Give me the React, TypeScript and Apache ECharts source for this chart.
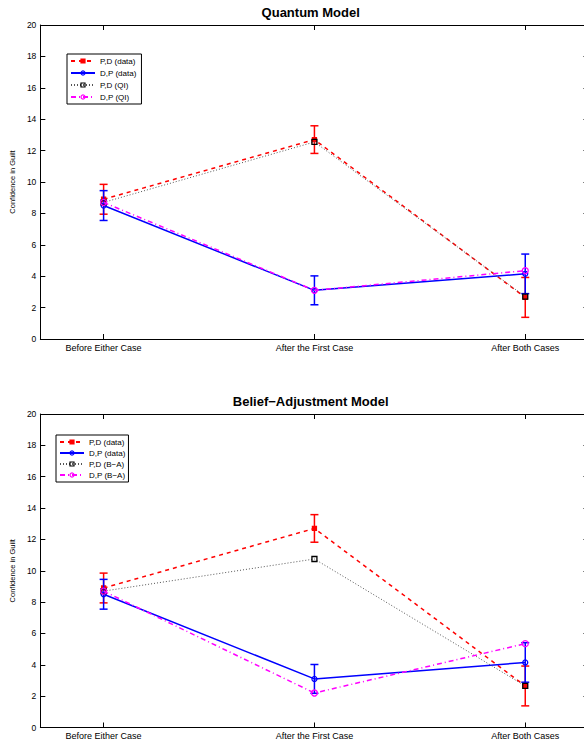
import React, { useEffect, useRef } from "react";
import * as echarts from "echarts";

const categories = ["Before Either Case", "After the First Case", "After Both Cases"];
const xPositions = [1, 2, 3];
const yTicks = [0, 2, 4, 6, 8, 10, 12, 14, 16, 18, 20];

const pdData = [8.9, 12.7, 2.65];
const pdErr = [0.95, 0.88, 1.27];
const dpData = [8.5, 3.1, 4.15];
const dpErr = [0.95, 0.92, 1.26];

const pdQI = [8.7, 12.55, 2.7];
const dpQI = [8.7, 3.1, 4.35];

const pdBA = [8.7, 10.75, 2.65];
const dpBA = [8.7, 2.2, 5.35];

const titles = ["Quantum Model", "Belief\u2212Adjustment Model"];
const legendTop = ["P,D (data)", "D,P (data)", "P,D (QI)", "D,P (QI)"];
const legendBottom = ["P,D (data)", "D,P (data)", "P,D (B\u2212A)", "D,P (B\u2212A)"];
const yName = "Confidence in Guilt";

const FONT = "Liberation Sans, Arial, Helvetica, sans-serif";
const RED = "#ff0000";
const BLUE = "#0000ff";
const BLACK = "#000000";
const DOT = "#555555";
const MAGENTA = "#ff00ff";
const CLEAR = "rgba(0,0,0,0)";

// style per legend row: [line color, marker fill, marker border]
const rowStyles = [
  { color: RED, fill: RED, border: RED },
  { color: BLUE, fill: CLEAR, border: BLUE },
  { color: DOT, fill: CLEAR, border: BLACK },
  { color: MAGENTA, fill: CLEAR, border: MAGENTA },
];

function pts(vals: number[]) {
  return xPositions.map((x, i) => [x, vals[i]]);
}

function lineSeries(
  name: string,
  vals: number[],
  color: string,
  dash: any,
  width: number,
  symbol: string,
  size: number,
  fill: string,
  border: string,
  g: number,
  z: number
) {
  return {
    type: "line",
    name,
    xAxisIndex: g * 2,
    yAxisIndex: g * 2,
    data: pts(vals),
    symbol,
    symbolSize: size,
    showSymbol: true,
    z,
    lineStyle: { color, width, type: dash },
    itemStyle: { color: fill, borderColor: border, borderWidth: 1.3 },
    emphasis: { disabled: true },
  };
}

function errSeries(vals: number[], errs: number[], color: string, g: number, z: number) {
  return {
    type: "custom",
    xAxisIndex: g * 2,
    yAxisIndex: g * 2,
    z,
    silent: true,
    data: xPositions.map((x, i) => [x, vals[i], errs[i]]),
    renderItem: (params: any, api: any) => {
      const x = api.value(0);
      const y = api.value(1);
      const e = api.value(2);
      const top = api.coord([x, y + e]);
      const bot = api.coord([x, y - e]);
      const hw = 4;
      const style = { stroke: color, lineWidth: 1.5 };
      return {
        type: "group",
        children: [
          { type: "line", shape: { x1: top[0], y1: top[1], x2: bot[0], y2: bot[1] }, style },
          { type: "line", shape: { x1: top[0] - hw, y1: top[1], x2: top[0] + hw, y2: top[1] }, style },
          { type: "line", shape: { x1: bot[0] - hw, y1: bot[1], x2: bot[0] + hw, y2: bot[1] }, style },
        ],
      };
    },
  };
}

export default function App() {
  const ref = useRef<HTMLDivElement>(null);
  useEffect(() => {
    if (!ref.current) return;
    const chart = echarts.init(ref.current, undefined, { renderer: "svg" });
    const grids = [
      { left: 33, top: 25, width: 555.5, height: 314 },
      { left: 33, top: 414, width: 555.5, height: 313.5 },
    ];
    const xAxes: any[] = [];
    const yAxes: any[] = [];
    grids.forEach((_, g) => {
      xAxes.push({
        type: "value",
        gridIndex: g,
        min: 0.7,
        max: 3.3,
        position: "bottom",
        axisLine: { show: true, onZero: false, lineStyle: { color: BLACK, width: 1 } },
        axisTick: { show: true, inside: true, length: 5, customValues: xPositions, lineStyle: { color: BLACK } },
        axisLabel: {
          show: true,
          customValues: xPositions,
          margin: 4,
          fontSize: 9,
          fontFamily: FONT,
          color: BLACK,
          formatter: (v: number) => categories[Math.round(v) - 1] || "",
        },
        splitLine: { show: false },
      });
      xAxes.push({
        type: "value",
        gridIndex: g,
        min: 0.7,
        max: 3.3,
        position: "top",
        axisLine: { show: true, onZero: false, lineStyle: { color: BLACK, width: 1 } },
        axisTick: { show: true, inside: true, length: 5, customValues: xPositions, lineStyle: { color: BLACK } },
        axisLabel: { show: false },
        splitLine: { show: false },
      });
      yAxes.push({
        type: "value",
        gridIndex: g,
        min: 0,
        max: 20,
        interval: 2,
        position: "left",
        name: yName,
        nameLocation: "middle",
        nameGap: 17,
        nameTextStyle: { fontSize: 7.5, fontFamily: FONT, color: BLACK },
        axisLine: { show: true, onZero: false, lineStyle: { color: BLACK, width: 1 } },
        axisTick: { show: true, inside: true, length: 5, lineStyle: { color: BLACK } },
        axisLabel: {
          show: true,
          margin: 4,
          fontSize: 8.5,
          fontFamily: FONT,
          color: BLACK,
          customValues: yTicks,
        },
        splitLine: { show: false },
      });
      yAxes.push({
        type: "value",
        gridIndex: g,
        min: 0,
        max: 20,
        interval: 2,
        position: "right",
        axisLine: { show: true, onZero: false, lineStyle: { color: BLACK, width: 1 } },
        axisTick: { show: true, inside: true, length: 5, lineStyle: { color: BLACK } },
        axisLabel: { show: false },
        splitLine: { show: false },
      });
    });

    const legendItems = (names: string[]) =>
      names.map((name, i) => ({
        name,
        itemStyle: { color: rowStyles[i].fill, borderColor: rowStyles[i].border, borderWidth: 1.2 },
      }));

    const legendCommon = {
      orient: "vertical",
      backgroundColor: "#ffffff",
      borderColor: BLACK,
      borderWidth: 1,
      borderRadius: 0,
      itemWidth: 24,
      itemHeight: 5,
      textStyle: { fontSize: 8, fontFamily: FONT, color: BLACK },
      selectedMode: false,
    };

    const option: any = {
      animation: false,
      backgroundColor: "#ffffff",
      graphic: [
        {
          type: "text",
          x: 310.7,
          y: 12,
          style: { text: titles[0], font: `bold 13px ${FONT}`, fill: BLACK, textAlign: "center", textVerticalAlign: "middle" },
        },
        {
          type: "text",
          x: 310.7,
          y: 401,
          style: { text: titles[1], font: `bold 13px ${FONT}`, fill: BLACK, textAlign: "center", textVerticalAlign: "middle" },
        },
      ],
      grid: grids,
      xAxis: xAxes,
      yAxis: yAxes,
      legend: [
        { ...legendCommon, data: legendItems(legendTop), left: 67, top: 54, itemGap: 4, padding: [3, 5, 3, 3] },
        { ...legendCommon, data: legendItems(legendBottom), left: 56, top: 435, itemGap: 3, padding: [3, 3, 3, 3] },
      ],
      series: [
        // top chart
        errSeries(pdData, pdErr, RED, 0, 2),
        lineSeries("P,D (data)", pdData, RED, [4, 4], 1.5, "rect", 4, RED, RED, 0, 3),
        errSeries(dpData, dpErr, BLUE, 0, 4),
        lineSeries("D,P (data)", dpData, BLUE, "solid", 1.5, "circle", 5, CLEAR, BLUE, 0, 5),
        lineSeries("P,D (QI)", pdQI, DOT, [1, 2], 1, "rect", 5, CLEAR, BLACK, 0, 6),
        lineSeries("D,P (QI)", dpQI, MAGENTA, [5, 3, 1, 3], 1.5, "circle", 6, CLEAR, MAGENTA, 0, 7),
        // bottom chart
        errSeries(pdData, pdErr, RED, 1, 2),
        lineSeries("P,D (data)", pdData, RED, [4, 4], 1.5, "rect", 4, RED, RED, 1, 3),
        errSeries(dpData, dpErr, BLUE, 1, 4),
        lineSeries("D,P (data)", dpData, BLUE, "solid", 1.5, "circle", 5, CLEAR, BLUE, 1, 5),
        lineSeries("P,D (B\u2212A)", pdBA, DOT, [1, 2], 1, "rect", 5, CLEAR, BLACK, 1, 6),
        lineSeries("D,P (B\u2212A)", dpBA, MAGENTA, [5, 3, 1, 3], 1.5, "circle", 6, CLEAR, MAGENTA, 1, 7),
      ],
    };
    chart.setOption(option);
    return () => chart.dispose();
  }, []);

  return (
    <div
      style={{
        position: "absolute",
        left: 0,
        top: 0,
        width: 584,
        height: 742,
        overflow: "hidden",
        background: "#ffffff",
      }}
    >
      <div ref={ref} style={{ width: 590, height: 742 }} />
    </div>
  );
}
